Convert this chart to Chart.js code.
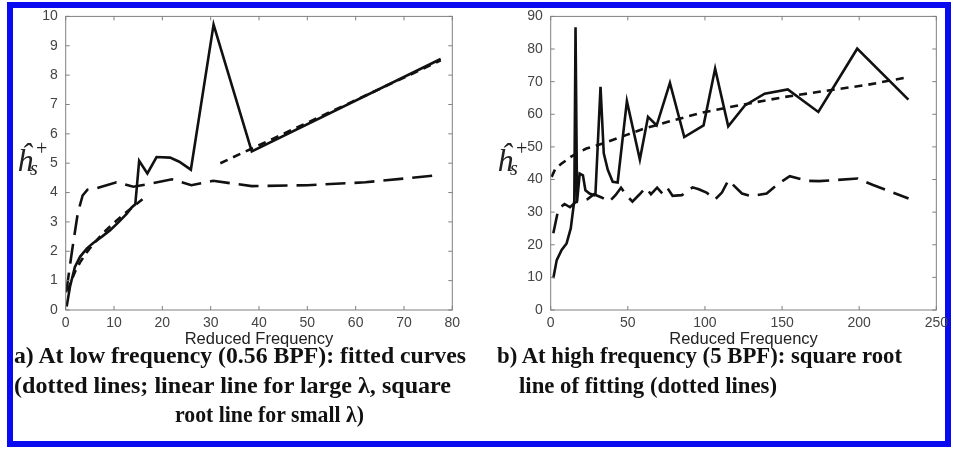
<!DOCTYPE html>
<html>
<head>
<meta charset="utf-8">
<script src="https://cdn.jsdelivr.net/npm/chart.js@4.4.1/dist/chart.umd.min.js"></script>
<style>
  html, body { margin: 0; padding: 0; background: #fff; }
  #page { position: relative; width: 953px; height: 449px; overflow: hidden; background: #fff; }
  #frame { position: absolute; left: 7px; top: 2px; width: 932px; height: 433px; border: 6px solid #0a0af0; }
  .plot { position: absolute; top: 0; height: 352px; }
  .ylab { position: absolute; font-family: "Liberation Serif", serif; font-style: italic; color: #222; line-height: 1; white-space: nowrap; }
  .ylab .h { position: absolute; left: 0; top: 0; font-size: 32px; }
  .ylab .s { position: absolute; left: 13px; top: 14px; font-size: 20px; }
  .ylab .p { position: absolute; left: 19px; top: -6px; font-size: 20px; font-style: normal; }
  .cap { position: absolute; font-family: "Liberation Serif", serif; font-weight: bold; font-size: 23px; line-height: 26px; color: #111; white-space: nowrap; transform-origin: 0 0; }
</style>
</head>
<body>
<div id="page">
  <div id="frame"></div>

  <div class="plot" style="left:0; width:476px;"><canvas id="lowChart" width="476" height="352"></canvas></div>
  <div class="plot" style="left:476px; width:477px;"><canvas id="highChart" width="477" height="352"></canvas></div>

  <div class="ylab" style="left:17px; top:144px;"><span class="h">ĥ</span><span class="s">s</span><span class="p">+</span></div>
  <div class="ylab" style="left:497px; top:144px;"><span class="h">ĥ</span><span class="s">s</span><span class="p">+</span></div>

  <div class="cap" data-w="452" style="left:14px; top:343px;">a) At low frequency (0.56 BPF): fitted curves</div>
  <div class="cap" data-w="437" style="left:14px; top:373px;">(dotted lines; linear line for large λ, square</div>
  <div class="cap" data-w="189" style="left:175px; top:402px;">root line for small λ)</div>
  <div class="cap" data-w="405" style="left:497px; top:343px;">b) At high frequency (5 BPF): square root</div>
  <div class="cap" data-w="258" style="left:519px; top:373px;">line of fitting (dotted lines)</div>
</div>

<script>
// (a) low frequency, 0.56 BPF
const lowSolidX = [0.2, 0.9, 1.9, 3.0, 4.4, 5.7, 7.5, 9.2, 11, 12.6, 13.7, 14.4, 15.2, 16.9, 18.8, 21.6, 23.5, 25.9, 30.6, 38.5, 77.6];
const lowSolidY = [0.12, 0.8, 1.47, 1.82, 2.1, 2.28, 2.5, 2.72, 3.0, 3.27, 3.5, 3.6, 5.08, 4.65, 5.21, 5.19, 5.05, 4.78, 9.72, 5.4, 8.55];

// fitted curves: square root part for small lambda, linear part for large lambda
const lowFitX = [0.5, 1, 2, 3, 4, 5, 6, 8, 10, 12, 14, 16.5, null, 32, 50, 77.6];
const lowFitY = [0.66, 0.94, 1.33, 1.63, 1.88, 2.1, 2.3, 2.66, 2.97, 3.26, 3.52, 3.85, null, 5.0, 6.38, 8.5];

const lowDashX = [0.1, 1.3, 2.5, 3.5, 4.5, 6.5, 10.5, 14, 17.5, 22, 26, 30.5, 38.5, 50, 62, 77.6];
const lowDashY = [0.6, 2.0, 3.3, 3.9, 4.1, 4.15, 4.35, 4.2, 4.3, 4.45, 4.25, 4.4, 4.22, 4.25, 4.35, 4.6];

// (b) high frequency, 5 BPF
const highSolidX = [1.7, 3.9, 7.1, 10.3, 13.0, 14.5, 15.3, 16.1, 17.1, 18.8, 20.9, 22.5, 25.2, 28.2, 29.0, 32.3, 34.4, 37, 40.2, 43.4, 49.4, 57.8, 63.1, 68.7, 77.3, 86.6, 99.1, 106.6, 115.1, 125.9, 138.7, 153.7, 173.5, 198.7, 231.9];
const highSolidY = [9.7, 15.3, 18.4, 20.4, 25.0, 30.6, 33.5, 86.7, 33.2, 41.8, 41.3, 36.7, 35.7, 35.2, 35.5, 68.4, 48, 43, 39.3, 39.1, 64, 46.1, 59.2, 56.6, 69.6, 53.0, 56.6, 74.0, 56.3, 62.7, 66.3, 67.6, 60.7, 80.1, 64.5];

const highFitX = [0.6, 3, 7.1, 13.5, 23.1, 34.9, 48.8, 60.6, 75.5, 98, 125, 151.6, 180, 205, 232];
const highFitY = [40.8, 43.3, 44.9, 47.1, 49.5, 51.2, 53.6, 55.6, 57.6, 60.5, 63, 65.3, 67.3, 69, 71.4];

const highDashX = [1.7, 5, 9, 12.5, 16, 20, 24, 28, 33, 38, 42, 45.6, 49, 53, 57.5, 61.6, 65, 69, 72.4, 75.5, 79, 85, 92, 96, 101, 106.6, 111, 115.2, 124, 130, 140, 147, 155, 166, 174, 184, 199, 209, 232];
const highDashY = [23.5, 31, 32.5, 31.5, 33, 33.5, 34, 35.5, 34.5, 33.2, 35.2, 37.5, 35.2, 33.2, 35.4, 37.5, 35.5, 37.5, 35.7, 37.5, 35, 35.2, 37.6, 37, 36, 33.9, 36, 39.8, 35.7, 34.9, 35.7, 38.5, 41, 39.6, 39.5, 39.8, 40.3, 38.3, 34.2];

function toPoints(xs, ys) {
    return xs.map((x, i) => (x === null ? { x: NaN, y: null } : { x: x, y: ys[i] }));
}

// gray axes box with short inward ticks on all four sides
const boxPlugin = {
    id: 'boxPlugin',
    afterDraw(chart) {
        const { ctx, chartArea: a, scales } = chart;
        ctx.save();
        ctx.strokeStyle = '#808080';
        ctx.lineWidth = 1;
        ctx.strokeRect(a.left, a.top, a.right - a.left, a.bottom - a.top);
        ctx.beginPath();
        scales.x.ticks.forEach((t) => {
            const px = scales.x.getPixelForValue(t.value);
            ctx.moveTo(px, a.bottom); ctx.lineTo(px, a.bottom - 4);
            ctx.moveTo(px, a.top); ctx.lineTo(px, a.top + 4);
        });
        scales.y.ticks.forEach((t) => {
            const py = scales.y.getPixelForValue(t.value);
            ctx.moveTo(a.left, py); ctx.lineTo(a.left + 4, py);
            ctx.moveTo(a.right, py); ctx.lineTo(a.right - 4, py);
        });
        ctx.stroke();
        ctx.restore();
    }
};

function lineSet(points, dash) {
    return {
        data: points,
        borderColor: '#111',
        borderWidth: 2.6,
        borderDash: dash,
        pointRadius: 0,
        tension: 0,
        spanGaps: false,
        fill: false
    };
}

function makeChart(id, cfg) {
    const tickFont = { family: '"Liberation Sans", Arial, sans-serif', size: 14 };
    return new Chart(document.getElementById(id), {
        type: 'line',
        data: {
            datasets: [
                lineSet(cfg.solid, []),
                lineSet(cfg.fit, [8, 6]),
                lineSet(cfg.dash, [20, 9])
            ]
        },
        options: {
            responsive: false,
            animation: false,
            layout: { padding: { top: 16, right: cfg.padRight, left: 0, bottom: 0 } },
            plugins: { legend: { display: false }, tooltip: { enabled: false } },
            scales: {
                x: {
                    type: 'linear',
                    min: 0,
                    max: cfg.xMax,
                    grid: { display: false, drawTicks: false },
                    border: { display: false },
                    ticks: { stepSize: cfg.xStep, color: '#444', font: tickFont, padding: 5, maxRotation: 0 },
                    title: {
                        display: true,
                        text: 'Reduced Frequency',
                        color: '#222',
                        font: { family: '"Liberation Sans", Arial, sans-serif', size: 16.5 },
                        padding: { top: 0, bottom: 3 }
                    },
                    afterFit: (scale) => { scale.height = 42; }
                },
                y: {
                    min: 0,
                    max: cfg.yMax,
                    grid: { display: false, drawTicks: false },
                    border: { display: false },
                    ticks: { stepSize: cfg.yStep, color: '#444', font: tickFont, padding: 8 },
                    afterFit: (scale) => { scale.width = cfg.yWidth; }
                }
            }
        },
        plugins: [boxPlugin]
    });
}

makeChart('lowChart', {
    solid: toPoints(lowSolidX, lowSolidY),
    fit: toPoints(lowFitX, lowFitY),
    dash: toPoints(lowDashX, lowDashY),
    xMax: 80, xStep: 10, yMax: 10, yStep: 1,
    yWidth: 65.7, padRight: 23.7
});

makeChart('highChart', {
    solid: toPoints(highSolidX, highSolidY),
    fit: toPoints(highFitX, highFitY),
    dash: toPoints(highDashX, highDashY),
    xMax: 250, xStep: 50, yMax: 90, yStep: 10,
    yWidth: 74.7, padRight: 13
});

// squeeze caption lines to their set widths
document.querySelectorAll('.cap').forEach((el) => {
    const w = el.getBoundingClientRect().width;
    el.style.transform = 'scaleX(' + (parseFloat(el.dataset.w) / w) + ')';
});
</script>
</body>
</html>
